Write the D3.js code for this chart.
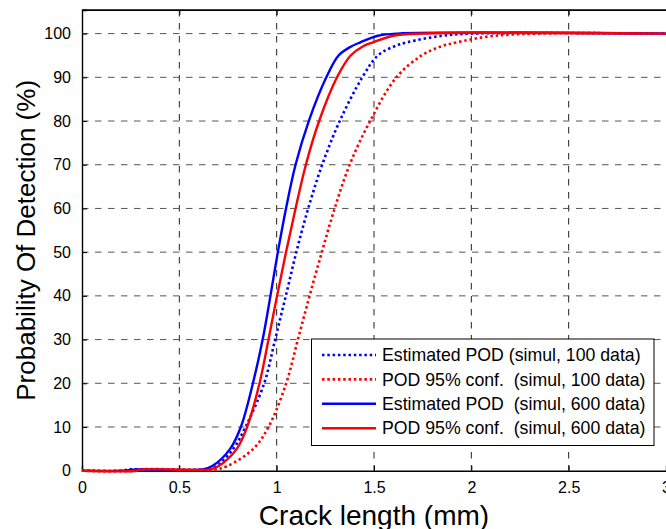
<!DOCTYPE html>
<html>
<head>
<meta charset="utf-8">
<script src="https://cdn.jsdelivr.net/npm/d3@7"></script>
<style>
	body { margin: 0; background: #fff; }
	text { font-family: Arial, "Liberation Sans", sans-serif; fill: #000; }
</style>
</head>
<body>
<svg id="chart" width="666" height="529"></svg>
<script>

// values: [crack length (mm), POD (%)]
const estPod100 = [[0,0],[0.2,0],[0.25,0.3],[0.64,0.3],[0.69,1],[0.777,5],[0.84,10],[0.936,20],[0.992,30],[1.047,40],[1.101,50],[1.162,60],[1.234,70],[1.324,80],[1.44,90],[1.52,95],[1.6,97],[1.67,98],[1.85,99.5],[2.0,100],[3,100]];
const confPod100 = [[0,0],[0.28,0],[0.3,0.3],[0.68,0.3],[0.744,1],[0.88,5],[0.958,10],[1.049,20],[1.109,30],[1.169,40],[1.232,50],[1.298,60],[1.375,70],[1.48,80],[1.615,90],[1.745,95],[1.84,97],[1.926,98],[2.1,99.4],[2.34,100],[3,100]];
const estPod600 = [[0,0],[0.2,0],[0.28,0.3],[0.62,0.3],[0.667,1],[0.761,5],[0.816,10],[0.878,20],[0.928,30],[0.968,40],[1.006,50],[1.048,60],[1.097,70],[1.165,80],[1.255,90],[1.318,95],[1.38,97],[1.43,98],[1.52,99.5],[1.62,100],[3,100]];
const confPod600 = [[0,0],[0.28,0],[0.3,0.3],[0.66,0.3],[0.70,1],[0.795,5],[0.848,10],[0.912,20],[0.958,30],[1.002,40],[1.048,50],[1.097,60],[1.150,70],[1.218,80],[1.31,90],[1.38,95],[1.44,97],[1.495,98],[1.6,99.5],[1.74,100],[3,100]];

const seriesNames = [
	"Estimated POD (simul, 100 data)",
	"POD 95% conf.  (simul, 100 data)",
	"Estimated POD  (simul, 600 data)",
	"POD 95% conf.  (simul, 600 data)"
];
const seriesColors = ["#0000ff", "#ff0000", "#0000ff", "#ff0000"];
const seriesDotted = [true, true, false, false];
const seriesData = [estPod100, confPod100, estPod600, confPod600];

const xTicks = [0, 0.5, 1, 1.5, 2, 2.5, 3];
const yTicks = [0, 10, 20, 30, 40, 50, 60, 70, 80, 90, 100];
const xTitle = "Crack length (mm)";
const yTitle = "Probability Of Detection (%)";

const svg = d3.select("#chart");
const pLeft = 82, pRight = 666, pTop = 10, pBottom = 470.7;

const x = d3.scaleLinear().domain([0, 3]).range([pLeft, pRight]);
const y = d3.scaleLinear().domain([0, 105.4]).range([pBottom, pTop]);

// grid
const grid = svg.append("g");
grid.selectAll(".vgrid")
	.data(xTicks.filter(d => d > 0 && d < 3))
	.enter().append("line")
	.attr("x1", d => x(d)).attr("x2", d => x(d))
	.attr("y1", pTop).attr("y2", pBottom)
	.attr("stroke", "#222").attr("stroke-width", 1)
	.attr("stroke-dasharray", "6.5,6.5");
grid.selectAll(".hgrid")
	.data(yTicks.filter(d => d > 0))
	.enter().append("line")
	.attr("x1", pLeft).attr("x2", pRight)
	.attr("y1", d => y(d)).attr("y2", d => y(d))
	.attr("stroke", "#555").attr("stroke-width", 1)
	.attr("stroke-dasharray", "6.5,6.5");

// axes, ticks inward like matlab
const xAxis = svg.append("g")
	.attr("transform", `translate(0,${pBottom})`)
	.call(d3.axisBottom(x).tickValues(xTicks).tickSize(-5).tickPadding(11).tickFormat(d3.format("")));
const yAxis = svg.append("g")
	.attr("transform", `translate(${pLeft},0)`)
	.call(d3.axisLeft(y).tickValues(yTicks).tickSize(-5).tickPadding(11));
svg.append("g")
	.attr("transform", `translate(0,${pTop})`)
	.call(d3.axisTop(x).tickValues(xTicks).tickSize(-5).tickFormat(""));

[xAxis, yAxis].forEach(a => {
	a.select(".domain").attr("stroke-width", 1.4);
	a.selectAll(".tick line").attr("stroke-width", 1);
	a.selectAll(".tick text").style("font-size", "16px").attr("fill", "#000");
});
svg.selectAll(".domain").attr("stroke", "#000");

// top frame
svg.append("line")
	.attr("x1", pLeft).attr("x2", pRight).attr("y1", pTop).attr("y2", pTop)
	.attr("stroke", "#000").attr("stroke-width", 1.4);

// curves
const line = d3.line()
	.x(d => x(d[0]))
	.y(d => y(d[1]))
	.curve(d3.curveCatmullRom.alpha(0.5));

svg.append("g")
	.selectAll(".podLine")
	.data(seriesData)
	.enter().append("path")
	.attr("class", "podLine")
	.attr("d", d => line(d))
	.attr("fill", "none")
	.attr("stroke", (d, i) => seriesColors[i])
	.attr("stroke-width", (d, i) => seriesDotted[i] ? 2.6 : 2.4)
	.attr("stroke-dasharray", (d, i) => seriesDotted[i] ? "2.5,2.8" : null);

// legend
const lg = svg.append("g");
lg.append("rect")
	.attr("x", 311.5).attr("y", 339)
	.attr("width", 342.5).attr("height", 106.5)
	.attr("fill", "#fff").attr("stroke", "#000").attr("stroke-width", 1);

const rowY = i => 355 + i * 24.4;
lg.selectAll(".lgLine")
	.data(seriesNames)
	.enter().append("line")
	.attr("x1", 322).attr("x2", 376)
	.attr("y1", (d, i) => rowY(i)).attr("y2", (d, i) => rowY(i))
	.attr("stroke", (d, i) => seriesColors[i])
	.attr("stroke-width", (d, i) => seriesDotted[i] ? 2.6 : 2.4)
	.attr("stroke-dasharray", (d, i) => seriesDotted[i] ? "2.5,2.8" : null);
lg.selectAll(".lgText")
	.data(seriesNames)
	.enter().append("text")
	.attr("x", 382)
	.attr("y", (d, i) => rowY(i))
	.attr("dy", "0.35em")
	.style("font-size", "17.7px")
	.style("white-space", "pre")
	.text(d => d);

// titles
svg.append("text")
	.attr("x", (pLeft + pRight) / 2)
	.attr("y", 525)
	.attr("text-anchor", "middle")
	.style("font-size", "28px")
	.text(xTitle);
svg.append("text")
	.attr("transform", `translate(35,${(pTop + pBottom) / 2}) rotate(-90)`)
	.attr("text-anchor", "middle")
	.style("font-size", "26px")
	.text(yTitle);

</script>
</body>
</html>
